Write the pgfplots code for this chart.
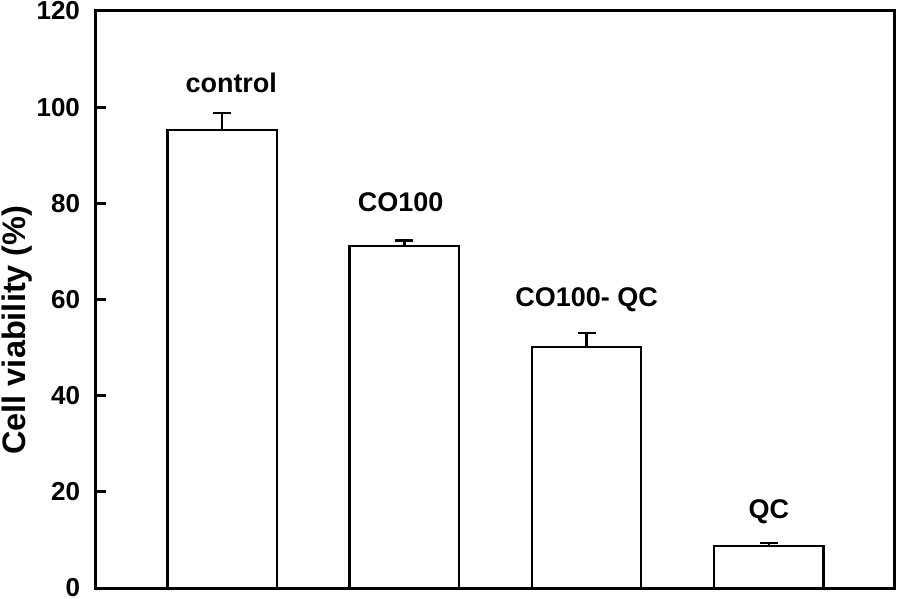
\documentclass[border=0pt]{standalone}
\usepackage{pgfplots}
\pgfplotsset{compat=1.18}
\usepackage{fontspec}
\setmainfont{Liberation Sans}
\begin{document}
\begin{tikzpicture}
\begin{axis}[
  name=main,
  scale only axis,
  width=799pt, height=577pt,
  xmin=-0.695, xmax=3.69,
  ymin=0, ymax=120,
  xtick=\empty,
  ytick={0,20,40,60,80,100,120},
  ytick pos=left,
  tick align=inside,
  major tick length=10pt,
  every tick/.style={line width=3pt, black},
  axis line style={line width=3pt},
  /pgf/number format/assume math mode=true,
  tick label style={font=\fontsize{26}{30}\selectfont\bfseries},
  yticklabel style={xshift=-12pt},
  ylabel={Cell viability (\%)},
  ylabel style={font=\fontsize{32.5}{36}\selectfont\bfseries,
    at={(axis description cs:-0.0985,0.447)}, anchor=center, rotate=0},
  clip=false,
]
\addplot[ybar, bar width=0.6, fill=white, draw=black, line width=2.5pt,
  error bars/.cd, y dir=plus, y explicit,
  error bar style={line width=2.5pt, black},
  error mark options={rotate=90, line width=2.5pt, mark size=9pt, black}]
  coordinates {(0,95.2) +- (0,3.6) (1,71.1) +- (0,1.2) (2,50.1) +- (0,2.9) (3,8.7) +- (0,0.65)};
\node[font=\fontsize{27}{30}\selectfont\bfseries] at (axis cs:0.05,105) {control};
\node[font=\fontsize{27}{30}\selectfont\bfseries] at (axis cs:0.98,80.2) {CO100};
\node[font=\fontsize{27}{30}\selectfont\bfseries] at (axis cs:2,59.9) {CO100- QC};
\node[font=\fontsize{27}{30}\selectfont\bfseries] at (axis cs:3,15.8) {QC};
\end{axis}
\pgfresetboundingbox
\path (main.south west) ++(-95.5pt,-10pt) rectangle ++(898pt,598pt);
\end{tikzpicture}
\end{document}
